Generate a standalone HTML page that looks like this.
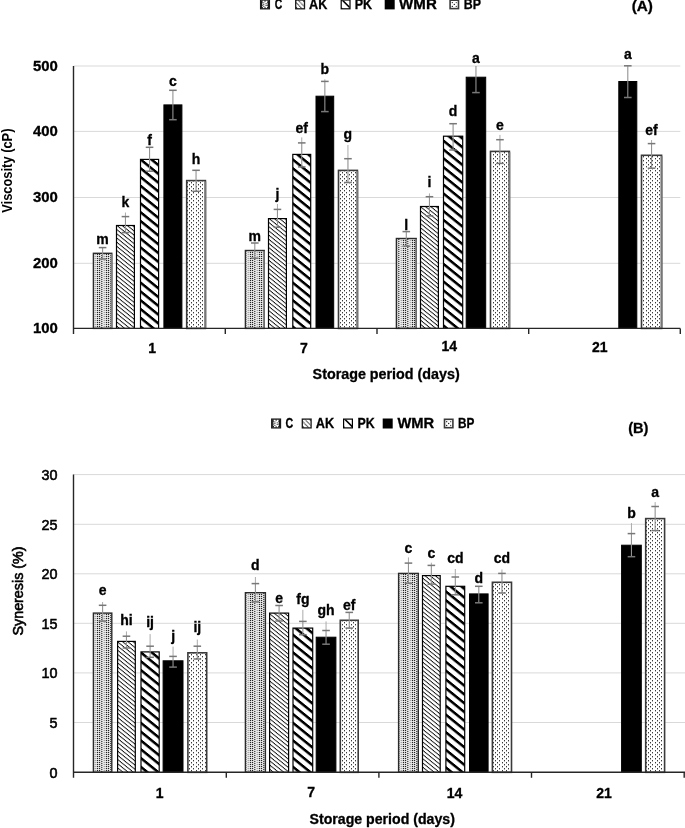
<!DOCTYPE html><html><head><meta charset="utf-8"><style>html,body{margin:0;padding:0;background:#fff;}svg{display:block;font-family:"Liberation Sans", sans-serif;will-change:transform;} text{stroke:#000;stroke-width:0.3px;}</style></head><body>
<svg width="685" height="828" viewBox="0 0 685 828">
<defs>
<pattern id="pC" patternUnits="userSpaceOnUse" width="7" height="2" x="0" y="0">
  <rect width="7" height="2" fill="#fafafa"/>
  <rect x="0" y="0" width="1" height="1" fill="#333"/><rect x="0" y="1" width="1" height="1" fill="#d8d8d8"/>
  <rect x="2" y="1" width="1" height="1" fill="#333"/><rect x="2" y="0" width="1" height="1" fill="#d8d8d8"/>
  <rect x="4" y="0" width="2" height="1" fill="#b0b0b0"/><rect x="4" y="1" width="2" height="1" fill="#ececec"/>
</pattern>
<pattern id="pCB" patternUnits="userSpaceOnUse" width="9" height="2" x="0" y="0">
  <rect width="9" height="2" fill="#f6f6f6"/>
  <rect x="0" y="0" width="1.2" height="1.1" fill="#222"/><rect x="0" y="1.1" width="1.2" height="0.9" fill="#cfcfcf"/>
  <rect x="2.2" y="1" width="1.2" height="1.1" fill="#222"/><rect x="2.2" y="0" width="1.2" height="1" fill="#cfcfcf"/>
  <rect x="4.5" y="0" width="2" height="1" fill="#a8a8a8"/><rect x="4.5" y="1" width="2" height="1" fill="#e4e4e4"/>
  <rect x="7" y="0" width="1.2" height="1.1" fill="#222"/><rect x="7" y="1.1" width="1.2" height="0.9" fill="#cfcfcf"/>
</pattern>
<pattern id="pAK" patternUnits="userSpaceOnUse" width="20" height="4.2" patternTransform="skewY(39)">
  <rect width="20" height="4.2" fill="#fff"/>
  <rect y="0" width="20" height="1.15" fill="#111"/>
</pattern>
<pattern id="pPK" patternUnits="userSpaceOnUse" width="20" height="8.8" patternTransform="skewY(39)">
  <rect width="20" height="8.8" fill="#fff"/>
  <rect y="0" width="20" height="3.3" fill="#000"/>
</pattern>
<pattern id="pBP" patternUnits="userSpaceOnUse" width="9" height="4" x="0" y="0">
  <rect width="9" height="4" fill="#fff"/>
  <rect x="0" y="0" width="1" height="1.4" fill="#3a3a3a"/>
  <rect x="4" y="0" width="1" height="1.4" fill="#3a3a3a"/>
  <rect x="2" y="2" width="1" height="1.4" fill="#3a3a3a"/>
  <rect x="7" y="2" width="1" height="1.4" fill="#3a3a3a"/>
</pattern>
<pattern id="lC" patternUnits="userSpaceOnUse" width="3" height="2.5">
  <rect width="3" height="2.5" fill="#4a4a4a"/>
  <rect x="0.5" y="0.6" width="2" height="1.1" fill="#f0f0f0"/>
</pattern>
<pattern id="lAK" patternUnits="userSpaceOnUse" width="20" height="3.6" patternTransform="skewY(45)">
  <rect width="20" height="3.6" fill="#1a1a1a"/>
  <rect y="0" width="20" height="1.7" fill="#f4f4f4"/>
</pattern>
<pattern id="lPK" patternUnits="userSpaceOnUse" width="20" height="6" patternTransform="skewY(45)">
  <rect width="20" height="6" fill="#fff"/>
  <rect y="0" width="20" height="2.5" fill="#000"/>
</pattern>
<pattern id="lBP" patternUnits="userSpaceOnUse" width="3" height="3">
  <rect width="3" height="3" fill="#fff"/>
  <rect x="1" y="1" width="1" height="1" fill="#222"/>
</pattern>
</defs>
<rect width="685" height="828" fill="#fff"/>
<line x1="73.5" y1="66.0" x2="680.3" y2="66.0" stroke="#d9d9d9" stroke-width="1"/>
<line x1="73.5" y1="131.4" x2="680.3" y2="131.4" stroke="#d9d9d9" stroke-width="1"/>
<line x1="73.5" y1="197.5" x2="680.3" y2="197.5" stroke="#d9d9d9" stroke-width="1"/>
<line x1="73.5" y1="263.3" x2="680.3" y2="263.3" stroke="#d9d9d9" stroke-width="1"/>
<rect x="93.40" y="253.30" width="18.40" height="75.10" fill="url(#pCB)" stroke="#2a2a2a" stroke-width="1.4"/>
<rect x="110.60" y="253.90" width="1.7" height="73.90" fill="#808080"/>
<rect x="116.50" y="225.50" width="17.90" height="102.90" fill="url(#pAK)" stroke="#000" stroke-width="1.2"/>
<rect x="140.50" y="159.40" width="18.10" height="169.00" fill="url(#pPK)" stroke="#000" stroke-width="1.2"/>
<rect x="163.90" y="104.90" width="18.00" height="223.50" fill="#000" stroke="#000" stroke-width="1.0"/>
<rect x="186.70" y="180.60" width="18.70" height="147.80" fill="url(#pBP)" stroke="#3a3a3a" stroke-width="1.6"/>
<rect x="204.40" y="181.40" width="1.9" height="147.00" fill="#767676"/>
<rect x="245.40" y="250.50" width="18.80" height="77.90" fill="url(#pCB)" stroke="#2a2a2a" stroke-width="1.4"/>
<rect x="263.00" y="251.10" width="1.7" height="76.70" fill="#808080"/>
<rect x="268.50" y="218.60" width="17.90" height="109.80" fill="url(#pAK)" stroke="#000" stroke-width="1.2"/>
<rect x="292.80" y="154.40" width="17.90" height="174.00" fill="url(#pPK)" stroke="#000" stroke-width="1.2"/>
<rect x="316.00" y="96.20" width="17.70" height="232.20" fill="#000" stroke="#000" stroke-width="1.0"/>
<rect x="338.50" y="170.40" width="18.90" height="158.00" fill="url(#pBP)" stroke="#3a3a3a" stroke-width="1.6"/>
<rect x="356.40" y="171.20" width="1.9" height="157.20" fill="#767676"/>
<rect x="396.40" y="238.50" width="19.80" height="89.90" fill="url(#pCB)" stroke="#2a2a2a" stroke-width="1.4"/>
<rect x="415.00" y="239.10" width="1.7" height="88.70" fill="#808080"/>
<rect x="420.50" y="206.50" width="17.90" height="121.90" fill="url(#pAK)" stroke="#000" stroke-width="1.2"/>
<rect x="443.50" y="136.20" width="19.20" height="192.20" fill="url(#pPK)" stroke="#000" stroke-width="1.2"/>
<rect x="466.20" y="77.20" width="19.50" height="251.20" fill="#000" stroke="#000" stroke-width="1.0"/>
<rect x="490.50" y="151.40" width="18.90" height="177.00" fill="url(#pBP)" stroke="#3a3a3a" stroke-width="1.6"/>
<rect x="508.40" y="152.20" width="1.9" height="176.20" fill="#767676"/>
<rect x="618.80" y="81.50" width="18.00" height="246.90" fill="#000" stroke="#000" stroke-width="1.0"/>
<rect x="641.50" y="155.30" width="20.10" height="173.10" fill="url(#pBP)" stroke="#3a3a3a" stroke-width="1.6"/>
<rect x="660.60" y="156.10" width="1.9" height="172.30" fill="#767676"/>
<line x1="102.60" y1="247.60" x2="102.60" y2="259.00" stroke="#929292" stroke-width="1.1"/>
<line x1="98.80" y1="247.60" x2="106.40" y2="247.60" stroke="#787878" stroke-width="1.5"/>
<line x1="98.80" y1="259.00" x2="106.40" y2="259.00" stroke="#787878" stroke-width="1.5"/>
<line x1="125.45" y1="216.60" x2="125.45" y2="232.60" stroke="#929292" stroke-width="1.1"/>
<line x1="125.45" y1="212.50" x2="125.45" y2="216.60" stroke="#aaaaaa" stroke-width="1.0"/>
<line x1="121.65" y1="216.60" x2="129.25" y2="216.60" stroke="#787878" stroke-width="1.5"/>
<line x1="121.65" y1="232.60" x2="129.25" y2="232.60" stroke="#787878" stroke-width="1.5"/>
<line x1="149.55" y1="147.30" x2="149.55" y2="171.20" stroke="#929292" stroke-width="1.1"/>
<line x1="145.75" y1="147.30" x2="153.35" y2="147.30" stroke="#787878" stroke-width="1.5"/>
<line x1="145.75" y1="171.20" x2="153.35" y2="171.20" stroke="#787878" stroke-width="1.5"/>
<line x1="172.90" y1="90.30" x2="172.90" y2="119.70" stroke="#929292" stroke-width="1.1"/>
<line x1="169.10" y1="90.30" x2="176.70" y2="90.30" stroke="#787878" stroke-width="1.5"/>
<line x1="169.10" y1="119.70" x2="176.70" y2="119.70" stroke="#787878" stroke-width="1.5"/>
<line x1="196.05" y1="170.30" x2="196.05" y2="191.30" stroke="#929292" stroke-width="1.1"/>
<line x1="192.25" y1="170.30" x2="199.85" y2="170.30" stroke="#787878" stroke-width="1.5"/>
<line x1="192.25" y1="191.30" x2="199.85" y2="191.30" stroke="#787878" stroke-width="1.5"/>
<line x1="254.80" y1="243.00" x2="254.80" y2="258.20" stroke="#929292" stroke-width="1.1"/>
<line x1="251.00" y1="243.00" x2="258.60" y2="243.00" stroke="#787878" stroke-width="1.5"/>
<line x1="251.00" y1="258.20" x2="258.60" y2="258.20" stroke="#787878" stroke-width="1.5"/>
<line x1="277.45" y1="209.40" x2="277.45" y2="227.30" stroke="#929292" stroke-width="1.1"/>
<line x1="277.45" y1="204.00" x2="277.45" y2="209.40" stroke="#aaaaaa" stroke-width="1.0"/>
<line x1="273.65" y1="209.40" x2="281.25" y2="209.40" stroke="#787878" stroke-width="1.5"/>
<line x1="273.65" y1="227.30" x2="281.25" y2="227.30" stroke="#787878" stroke-width="1.5"/>
<line x1="301.75" y1="142.90" x2="301.75" y2="166.90" stroke="#929292" stroke-width="1.1"/>
<line x1="301.75" y1="137.40" x2="301.75" y2="142.90" stroke="#aaaaaa" stroke-width="1.0"/>
<line x1="297.95" y1="142.90" x2="305.55" y2="142.90" stroke="#787878" stroke-width="1.5"/>
<line x1="297.95" y1="166.90" x2="305.55" y2="166.90" stroke="#787878" stroke-width="1.5"/>
<line x1="324.85" y1="81.40" x2="324.85" y2="111.60" stroke="#929292" stroke-width="1.1"/>
<line x1="324.85" y1="79.30" x2="324.85" y2="81.40" stroke="#aaaaaa" stroke-width="1.0"/>
<line x1="321.05" y1="81.40" x2="328.65" y2="81.40" stroke="#787878" stroke-width="1.5"/>
<line x1="321.05" y1="111.60" x2="328.65" y2="111.60" stroke="#787878" stroke-width="1.5"/>
<line x1="347.95" y1="158.70" x2="347.95" y2="182.50" stroke="#929292" stroke-width="1.1"/>
<line x1="347.95" y1="145.00" x2="347.95" y2="158.70" stroke="#aaaaaa" stroke-width="1.0"/>
<line x1="344.15" y1="158.70" x2="351.75" y2="158.70" stroke="#787878" stroke-width="1.5"/>
<line x1="344.15" y1="182.50" x2="351.75" y2="182.50" stroke="#787878" stroke-width="1.5"/>
<line x1="406.30" y1="231.60" x2="406.30" y2="246.20" stroke="#929292" stroke-width="1.1"/>
<line x1="402.50" y1="231.60" x2="410.10" y2="231.60" stroke="#787878" stroke-width="1.5"/>
<line x1="402.50" y1="246.20" x2="410.10" y2="246.20" stroke="#787878" stroke-width="1.5"/>
<line x1="429.45" y1="196.70" x2="429.45" y2="215.90" stroke="#929292" stroke-width="1.1"/>
<line x1="429.45" y1="193.40" x2="429.45" y2="196.70" stroke="#aaaaaa" stroke-width="1.0"/>
<line x1="425.65" y1="196.70" x2="433.25" y2="196.70" stroke="#787878" stroke-width="1.5"/>
<line x1="425.65" y1="215.90" x2="433.25" y2="215.90" stroke="#787878" stroke-width="1.5"/>
<line x1="453.10" y1="123.70" x2="453.10" y2="150.00" stroke="#929292" stroke-width="1.1"/>
<line x1="449.30" y1="123.70" x2="456.90" y2="123.70" stroke="#787878" stroke-width="1.5"/>
<line x1="449.30" y1="150.00" x2="456.90" y2="150.00" stroke="#787878" stroke-width="1.5"/>
<line x1="475.95" y1="66.00" x2="475.95" y2="92.60" stroke="#929292" stroke-width="1.1"/>
<line x1="472.15" y1="92.60" x2="479.75" y2="92.60" stroke="#787878" stroke-width="1.5"/>
<line x1="499.95" y1="139.70" x2="499.95" y2="163.40" stroke="#929292" stroke-width="1.1"/>
<line x1="499.95" y1="134.90" x2="499.95" y2="139.70" stroke="#aaaaaa" stroke-width="1.0"/>
<line x1="496.15" y1="139.70" x2="503.75" y2="139.70" stroke="#787878" stroke-width="1.5"/>
<line x1="496.15" y1="163.40" x2="503.75" y2="163.40" stroke="#787878" stroke-width="1.5"/>
<line x1="627.80" y1="65.80" x2="627.80" y2="97.50" stroke="#929292" stroke-width="1.1"/>
<line x1="624.00" y1="65.80" x2="631.60" y2="65.80" stroke="#787878" stroke-width="1.5"/>
<line x1="624.00" y1="97.50" x2="631.60" y2="97.50" stroke="#787878" stroke-width="1.5"/>
<line x1="651.55" y1="143.60" x2="651.55" y2="168.20" stroke="#929292" stroke-width="1.1"/>
<line x1="651.55" y1="140.00" x2="651.55" y2="143.60" stroke="#aaaaaa" stroke-width="1.0"/>
<line x1="647.75" y1="143.60" x2="655.35" y2="143.60" stroke="#787878" stroke-width="1.5"/>
<line x1="647.75" y1="168.20" x2="655.35" y2="168.20" stroke="#787878" stroke-width="1.5"/>
<text x="102.6" y="244.3" font-size="14" font-weight="bold" text-anchor="middle" >m</text>
<text x="125.5" y="207.0" font-size="14" font-weight="bold" text-anchor="middle" >k</text>
<text x="149.6" y="145.1" font-size="14" font-weight="bold" text-anchor="middle" >f</text>
<text x="172.9" y="85.7" font-size="14" font-weight="bold" text-anchor="middle" >c</text>
<text x="196.1" y="164.2" font-size="14" font-weight="bold" text-anchor="middle" >h</text>
<text x="254.8" y="241.0" font-size="14" font-weight="bold" text-anchor="middle" >m</text>
<text x="277.4" y="199.4" font-size="14" font-weight="bold" text-anchor="middle" >j</text>
<text x="301.8" y="132.5" font-size="14" font-weight="bold" text-anchor="middle" >ef</text>
<text x="324.9" y="74.1" font-size="14" font-weight="bold" text-anchor="middle" >b</text>
<text x="347.9" y="138.7" font-size="14" font-weight="bold" text-anchor="middle" >g</text>
<text x="406.3" y="229.6" font-size="14" font-weight="bold" text-anchor="middle" >l</text>
<text x="429.4" y="187.2" font-size="14" font-weight="bold" text-anchor="middle" >i</text>
<text x="453.1" y="116.4" font-size="14" font-weight="bold" text-anchor="middle" >d</text>
<text x="475.9" y="62.9" font-size="14" font-weight="bold" text-anchor="middle" >a</text>
<text x="499.9" y="129.7" font-size="14" font-weight="bold" text-anchor="middle" >e</text>
<text x="627.8" y="58.5" font-size="14" font-weight="bold" text-anchor="middle" >a</text>
<text x="651.5" y="134.6" font-size="14" font-weight="bold" text-anchor="middle" >ef</text>
<line x1="73.5" y1="66.0" x2="73.5" y2="333.9" stroke="#262626" stroke-width="1.4"/>
<line x1="73.5" y1="328.4" x2="680.3" y2="328.4" stroke="#262626" stroke-width="1.4"/>
<line x1="225.3" y1="328.4" x2="225.3" y2="333.9" stroke="#262626" stroke-width="1.4"/>
<line x1="377.0" y1="328.4" x2="377.0" y2="333.9" stroke="#262626" stroke-width="1.4"/>
<line x1="528.7" y1="328.4" x2="528.7" y2="333.9" stroke="#262626" stroke-width="1.4"/>
<line x1="680.3" y1="328.4" x2="680.3" y2="333.9" stroke="#262626" stroke-width="1.4"/>
<text x="57.8" y="70.9" font-size="14.3" font-weight="bold" text-anchor="end" textLength="24.9" lengthAdjust="spacingAndGlyphs" style="stroke-width:0.3px">500</text>
<text x="57.8" y="136.3" font-size="14.3" font-weight="bold" text-anchor="end" textLength="24.9" lengthAdjust="spacingAndGlyphs" style="stroke-width:0.3px">400</text>
<text x="57.8" y="202.4" font-size="14.3" font-weight="bold" text-anchor="end" textLength="24.9" lengthAdjust="spacingAndGlyphs" style="stroke-width:0.3px">300</text>
<text x="57.8" y="268.2" font-size="14.3" font-weight="bold" text-anchor="end" textLength="24.9" lengthAdjust="spacingAndGlyphs" style="stroke-width:0.3px">200</text>
<text x="57.8" y="333.3" font-size="14.3" font-weight="bold" text-anchor="end" textLength="24.9" lengthAdjust="spacingAndGlyphs" style="stroke-width:0.3px">100</text>
<text x="152.1" y="353.4" font-size="14" font-weight="bold" text-anchor="middle" >1</text>
<text x="303.9" y="353.1" font-size="14" font-weight="bold" text-anchor="middle" >7</text>
<text x="449.2" y="351.4" font-size="14" font-weight="bold" text-anchor="middle" >14</text>
<text x="599.7" y="352.4" font-size="14" font-weight="bold" text-anchor="middle" >21</text>
<g transform="translate(260.0,-0.6)"><rect x="0.6" y="0.6" width="8.8" height="8.8" fill="#fff" stroke="#1a1a1a" stroke-width="1.3"/><path d="M1,1 L3,1 L2.4,2.2 L2.9,3 L1.9,3.8 L2.9,4.6 L1.9,5.4 L2.9,6.2 L1.9,7 L2.9,7.8 L3,9 L1,9 Z" fill="#1a1a1a"/><path d="M9,1 L7.2,1 L7.6,2.2 L7.0,3 L8.0,3.8 L7.0,4.6 L8.0,5.4 L7.0,6.2 L8.0,7 L7.0,7.8 L7.2,9 L9,9 Z" fill="#1a1a1a"/><path d="M4.1,1 L6.0,1 L5,2.8 Z M4.1,9 L6.0,9 L5,7.2 Z" fill="#1a1a1a"/><circle cx="3.8" cy="3.4" r="0.6" fill="#222"/><circle cx="3.8" cy="5.1" r="0.6" fill="#222"/><circle cx="3.8" cy="6.8" r="0.6" fill="#222"/><circle cx="6.1" cy="4.3" r="0.6" fill="#222"/><circle cx="6.1" cy="6.0" r="0.6" fill="#222"/></g>
<text x="274.8" y="9.1" font-size="14" font-weight="bold" text-anchor="start" textLength="7.5" lengthAdjust="spacingAndGlyphs">C</text>
<g transform="translate(295.1,-0.6)"><rect x="0.6" y="0.6" width="8.8" height="8.8" fill="#fff" stroke="#1a1a1a" stroke-width="1.3"/><path d="M1,3.2 L6.8,9" stroke="#222" stroke-width="1.1" stroke-dasharray="1 0.5"/><path d="M3.2,1 L9,6.8" stroke="#333" stroke-width="1.1" stroke-dasharray="1 0.5"/><path d="M1,7.2 L2.8,9 L1,9 Z M7.2,1 L9,1 L9,2.8 Z M1,1 L2,1 L1,2 Z" fill="#111"/></g>
<text x="309.1" y="9.1" font-size="14" font-weight="bold" text-anchor="start" textLength="18.3" lengthAdjust="spacingAndGlyphs">AK</text>
<g transform="translate(340.6,-0.6)"><rect x="0.6" y="0.6" width="8.8" height="8.8" fill="#fff" stroke="#000" stroke-width="1.2"/><path d="M1,1 L3.2,1 L9,6.8 L9,9 Z" fill="#000"/><path d="M1,7.8 L2.2,9 L1,9 Z" fill="#000"/></g>
<text x="354.7" y="9.1" font-size="14" font-weight="bold" text-anchor="start" textLength="17.5" lengthAdjust="spacingAndGlyphs">PK</text>
<g transform="translate(384.7,-0.6)"><rect x="0" y="0" width="10" height="10" fill="#000"/></g>
<text x="399.1" y="9.1" font-size="14" font-weight="bold" text-anchor="start" textLength="37.7" lengthAdjust="spacingAndGlyphs">WMR</text>
<g transform="translate(449.3,-0.6)"><rect x="0.8" y="0.8" width="8.4" height="8.4" fill="#fff" stroke="#3a3a3a" stroke-width="1.6"/><circle cx="3" cy="3.2" r="0.65" fill="#111"/><circle cx="7" cy="3.2" r="0.65" fill="#444"/><circle cx="5" cy="5" r="0.65" fill="#111"/><circle cx="3" cy="7" r="0.65" fill="#111"/><circle cx="7" cy="7" r="0.65" fill="#444"/></g>
<text x="463.8" y="9.1" font-size="14" font-weight="bold" text-anchor="start" textLength="17.2" lengthAdjust="spacingAndGlyphs">BP</text>
<text x="631.7" y="11.4" font-size="14" font-weight="bold" text-anchor="start" textLength="21.2" lengthAdjust="spacingAndGlyphs">(A)</text>
<text x="312.6" y="379.3" font-size="14" font-weight="bold" text-anchor="start" textLength="147.1" lengthAdjust="spacingAndGlyphs">Storage period (days)</text>
<text transform="translate(11.6,212.8) rotate(-90)" font-size="14" font-weight="bold" style="stroke-width:0" textLength="84.3" lengthAdjust="spacingAndGlyphs">Viscosity (cP)</text>
<line x1="73.5" y1="474.6" x2="685.5" y2="474.6" stroke="#d9d9d9" stroke-width="1"/>
<line x1="73.5" y1="524.3" x2="685.5" y2="524.3" stroke="#d9d9d9" stroke-width="1"/>
<line x1="73.5" y1="573.8" x2="685.5" y2="573.8" stroke="#d9d9d9" stroke-width="1"/>
<line x1="73.5" y1="623.3" x2="685.5" y2="623.3" stroke="#d9d9d9" stroke-width="1"/>
<line x1="73.5" y1="672.9" x2="685.5" y2="672.9" stroke="#d9d9d9" stroke-width="1"/>
<line x1="73.5" y1="722.5" x2="685.5" y2="722.5" stroke="#d9d9d9" stroke-width="1"/>
<rect x="93.40" y="613.10" width="18.40" height="159.20" fill="url(#pCB)" stroke="#2a2a2a" stroke-width="1.4"/>
<rect x="117.60" y="641.40" width="17.70" height="130.90" fill="url(#pAK)" stroke="#000" stroke-width="1.2"/>
<rect x="141.00" y="651.90" width="18.20" height="120.40" fill="url(#pPK)" stroke="#000" stroke-width="1.2"/>
<rect x="163.10" y="660.80" width="19.90" height="111.50" fill="#000" stroke="#000" stroke-width="1.0"/>
<rect x="187.90" y="652.80" width="18.80" height="119.50" fill="url(#pBP)" stroke="#3a3a3a" stroke-width="1.6"/>
<rect x="245.40" y="592.70" width="20.00" height="179.60" fill="url(#pCB)" stroke="#2a2a2a" stroke-width="1.4"/>
<rect x="269.60" y="613.10" width="19.00" height="159.20" fill="url(#pAK)" stroke="#000" stroke-width="1.2"/>
<rect x="293.00" y="628.10" width="19.70" height="144.20" fill="url(#pPK)" stroke="#000" stroke-width="1.2"/>
<rect x="316.20" y="637.20" width="19.70" height="135.10" fill="#000" stroke="#000" stroke-width="1.0"/>
<rect x="340.30" y="620.30" width="17.90" height="152.00" fill="url(#pBP)" stroke="#3a3a3a" stroke-width="1.6"/>
<rect x="398.60" y="573.40" width="19.70" height="198.90" fill="url(#pCB)" stroke="#2a2a2a" stroke-width="1.4"/>
<rect x="422.50" y="575.60" width="17.70" height="196.70" fill="url(#pAK)" stroke="#000" stroke-width="1.2"/>
<rect x="445.90" y="586.30" width="18.80" height="186.00" fill="url(#pPK)" stroke="#000" stroke-width="1.2"/>
<rect x="469.50" y="593.90" width="18.60" height="178.40" fill="#000" stroke="#000" stroke-width="1.0"/>
<rect x="492.40" y="582.30" width="19.10" height="190.00" fill="url(#pBP)" stroke="#3a3a3a" stroke-width="1.6"/>
<rect x="621.60" y="545.20" width="19.70" height="227.10" fill="#000" stroke="#000" stroke-width="1.0"/>
<rect x="645.70" y="518.60" width="18.90" height="253.70" fill="url(#pBP)" stroke="#3a3a3a" stroke-width="1.6"/>
<line x1="102.60" y1="605.30" x2="102.60" y2="621.10" stroke="#929292" stroke-width="1.1"/>
<line x1="102.60" y1="602.00" x2="102.60" y2="605.30" stroke="#aaaaaa" stroke-width="1.0"/>
<line x1="98.80" y1="605.30" x2="106.40" y2="605.30" stroke="#787878" stroke-width="1.5"/>
<line x1="98.80" y1="621.10" x2="106.40" y2="621.10" stroke="#787878" stroke-width="1.5"/>
<line x1="126.45" y1="636.20" x2="126.45" y2="648.00" stroke="#929292" stroke-width="1.1"/>
<line x1="126.45" y1="631.40" x2="126.45" y2="636.20" stroke="#aaaaaa" stroke-width="1.0"/>
<line x1="122.65" y1="636.20" x2="130.25" y2="636.20" stroke="#787878" stroke-width="1.5"/>
<line x1="122.65" y1="648.00" x2="130.25" y2="648.00" stroke="#787878" stroke-width="1.5"/>
<line x1="150.10" y1="646.20" x2="150.10" y2="657.30" stroke="#929292" stroke-width="1.1"/>
<line x1="150.10" y1="634.10" x2="150.10" y2="646.20" stroke="#aaaaaa" stroke-width="1.0"/>
<line x1="146.30" y1="646.20" x2="153.90" y2="646.20" stroke="#787878" stroke-width="1.5"/>
<line x1="146.30" y1="657.30" x2="153.90" y2="657.30" stroke="#787878" stroke-width="1.5"/>
<line x1="173.05" y1="656.40" x2="173.05" y2="667.10" stroke="#929292" stroke-width="1.1"/>
<line x1="173.05" y1="646.60" x2="173.05" y2="656.40" stroke="#aaaaaa" stroke-width="1.0"/>
<line x1="169.25" y1="656.40" x2="176.85" y2="656.40" stroke="#787878" stroke-width="1.5"/>
<line x1="169.25" y1="667.10" x2="176.85" y2="667.10" stroke="#787878" stroke-width="1.5"/>
<line x1="197.30" y1="646.20" x2="197.30" y2="659.00" stroke="#929292" stroke-width="1.1"/>
<line x1="197.30" y1="639.50" x2="197.30" y2="646.20" stroke="#aaaaaa" stroke-width="1.0"/>
<line x1="193.50" y1="646.20" x2="201.10" y2="646.20" stroke="#787878" stroke-width="1.5"/>
<line x1="193.50" y1="659.00" x2="201.10" y2="659.00" stroke="#787878" stroke-width="1.5"/>
<line x1="255.40" y1="583.60" x2="255.40" y2="601.90" stroke="#929292" stroke-width="1.1"/>
<line x1="255.40" y1="577.00" x2="255.40" y2="583.60" stroke="#aaaaaa" stroke-width="1.0"/>
<line x1="251.60" y1="583.60" x2="259.20" y2="583.60" stroke="#787878" stroke-width="1.5"/>
<line x1="251.60" y1="601.90" x2="259.20" y2="601.90" stroke="#787878" stroke-width="1.5"/>
<line x1="279.10" y1="605.50" x2="279.10" y2="621.00" stroke="#929292" stroke-width="1.1"/>
<line x1="275.30" y1="605.50" x2="282.90" y2="605.50" stroke="#787878" stroke-width="1.5"/>
<line x1="275.30" y1="621.00" x2="282.90" y2="621.00" stroke="#787878" stroke-width="1.5"/>
<line x1="302.85" y1="621.40" x2="302.85" y2="634.70" stroke="#929292" stroke-width="1.1"/>
<line x1="302.85" y1="609.80" x2="302.85" y2="621.40" stroke="#aaaaaa" stroke-width="1.0"/>
<line x1="299.05" y1="621.40" x2="306.65" y2="621.40" stroke="#787878" stroke-width="1.5"/>
<line x1="299.05" y1="634.70" x2="306.65" y2="634.70" stroke="#787878" stroke-width="1.5"/>
<line x1="326.05" y1="630.50" x2="326.05" y2="644.20" stroke="#929292" stroke-width="1.1"/>
<line x1="326.05" y1="621.40" x2="326.05" y2="630.50" stroke="#aaaaaa" stroke-width="1.0"/>
<line x1="322.25" y1="630.50" x2="329.85" y2="630.50" stroke="#787878" stroke-width="1.5"/>
<line x1="322.25" y1="644.20" x2="329.85" y2="644.20" stroke="#787878" stroke-width="1.5"/>
<line x1="349.25" y1="612.40" x2="349.25" y2="628.10" stroke="#929292" stroke-width="1.1"/>
<line x1="345.45" y1="612.40" x2="353.05" y2="612.40" stroke="#787878" stroke-width="1.5"/>
<line x1="345.45" y1="628.10" x2="353.05" y2="628.10" stroke="#787878" stroke-width="1.5"/>
<line x1="408.45" y1="563.10" x2="408.45" y2="583.20" stroke="#929292" stroke-width="1.1"/>
<line x1="408.45" y1="557.40" x2="408.45" y2="563.10" stroke="#aaaaaa" stroke-width="1.0"/>
<line x1="404.65" y1="563.10" x2="412.25" y2="563.10" stroke="#787878" stroke-width="1.5"/>
<line x1="404.65" y1="583.20" x2="412.25" y2="583.20" stroke="#787878" stroke-width="1.5"/>
<line x1="431.35" y1="565.40" x2="431.35" y2="584.10" stroke="#929292" stroke-width="1.1"/>
<line x1="431.35" y1="562.70" x2="431.35" y2="565.40" stroke="#aaaaaa" stroke-width="1.0"/>
<line x1="427.55" y1="565.40" x2="435.15" y2="565.40" stroke="#787878" stroke-width="1.5"/>
<line x1="427.55" y1="584.10" x2="435.15" y2="584.10" stroke="#787878" stroke-width="1.5"/>
<line x1="455.30" y1="577.00" x2="455.30" y2="594.80" stroke="#929292" stroke-width="1.1"/>
<line x1="455.30" y1="569.00" x2="455.30" y2="577.00" stroke="#aaaaaa" stroke-width="1.0"/>
<line x1="451.50" y1="577.00" x2="459.10" y2="577.00" stroke="#787878" stroke-width="1.5"/>
<line x1="451.50" y1="594.80" x2="459.10" y2="594.80" stroke="#787878" stroke-width="1.5"/>
<line x1="478.80" y1="586.30" x2="478.80" y2="602.80" stroke="#929292" stroke-width="1.1"/>
<line x1="475.00" y1="586.30" x2="482.60" y2="586.30" stroke="#787878" stroke-width="1.5"/>
<line x1="475.00" y1="602.80" x2="482.60" y2="602.80" stroke="#787878" stroke-width="1.5"/>
<line x1="501.95" y1="573.40" x2="501.95" y2="593.00" stroke="#929292" stroke-width="1.1"/>
<line x1="501.95" y1="569.50" x2="501.95" y2="573.40" stroke="#aaaaaa" stroke-width="1.0"/>
<line x1="498.15" y1="573.40" x2="505.75" y2="573.40" stroke="#787878" stroke-width="1.5"/>
<line x1="498.15" y1="593.00" x2="505.75" y2="593.00" stroke="#787878" stroke-width="1.5"/>
<line x1="631.45" y1="533.60" x2="631.45" y2="556.70" stroke="#929292" stroke-width="1.1"/>
<line x1="631.45" y1="523.10" x2="631.45" y2="533.60" stroke="#aaaaaa" stroke-width="1.0"/>
<line x1="627.65" y1="533.60" x2="635.25" y2="533.60" stroke="#787878" stroke-width="1.5"/>
<line x1="627.65" y1="556.70" x2="635.25" y2="556.70" stroke="#787878" stroke-width="1.5"/>
<line x1="655.15" y1="506.50" x2="655.15" y2="530.60" stroke="#929292" stroke-width="1.1"/>
<line x1="655.15" y1="502.10" x2="655.15" y2="506.50" stroke="#aaaaaa" stroke-width="1.0"/>
<line x1="651.35" y1="506.50" x2="658.95" y2="506.50" stroke="#787878" stroke-width="1.5"/>
<line x1="651.35" y1="530.60" x2="658.95" y2="530.60" stroke="#787878" stroke-width="1.5"/>
<text x="102.6" y="595.3" font-size="14" font-weight="bold" text-anchor="middle" >e</text>
<text x="126.5" y="625.0" font-size="14" font-weight="bold" text-anchor="middle" >hi</text>
<text x="150.1" y="627.2" font-size="14" font-weight="bold" text-anchor="middle" >ij</text>
<text x="173.1" y="640.7" font-size="14" font-weight="bold" text-anchor="middle" >j</text>
<text x="197.3" y="631.7" font-size="14" font-weight="bold" text-anchor="middle" >ij</text>
<text x="255.4" y="570.0" font-size="14" font-weight="bold" text-anchor="middle" >d</text>
<text x="279.1" y="602.6" font-size="14" font-weight="bold" text-anchor="middle" >e</text>
<text x="302.9" y="603.7" font-size="14" font-weight="bold" text-anchor="middle" >fg</text>
<text x="326.0" y="614.7" font-size="14" font-weight="bold" text-anchor="middle" >gh</text>
<text x="349.2" y="609.7" font-size="14" font-weight="bold" text-anchor="middle" >ef</text>
<text x="408.5" y="552.8" font-size="14" font-weight="bold" text-anchor="middle" >c</text>
<text x="431.4" y="558.1" font-size="14" font-weight="bold" text-anchor="middle" >c</text>
<text x="455.3" y="563.4" font-size="14" font-weight="bold" text-anchor="middle" >cd</text>
<text x="478.8" y="583.4" font-size="14" font-weight="bold" text-anchor="middle" >d</text>
<text x="501.9" y="563.4" font-size="14" font-weight="bold" text-anchor="middle" >cd</text>
<text x="631.5" y="517.9" font-size="14" font-weight="bold" text-anchor="middle" >b</text>
<text x="655.2" y="496.5" font-size="14" font-weight="bold" text-anchor="middle" >a</text>
<line x1="73.5" y1="474.6" x2="73.5" y2="777.8" stroke="#262626" stroke-width="1.4"/>
<line x1="73.5" y1="772.3" x2="685.5" y2="772.3" stroke="#262626" stroke-width="1.4"/>
<line x1="226.3" y1="772.3" x2="226.3" y2="777.8" stroke="#262626" stroke-width="1.4"/>
<line x1="378.9" y1="772.3" x2="378.9" y2="777.8" stroke="#262626" stroke-width="1.4"/>
<line x1="531.5" y1="772.3" x2="531.5" y2="777.8" stroke="#262626" stroke-width="1.4"/>
<line x1="684.2" y1="772.3" x2="684.2" y2="777.8" stroke="#262626" stroke-width="1.4"/>
<text x="57.4" y="479.8" font-size="14.3" font-weight="normal" text-anchor="end" textLength="16.0" lengthAdjust="spacingAndGlyphs" style="stroke-width:0.55px">30</text>
<text x="57.4" y="529.5" font-size="14.3" font-weight="normal" text-anchor="end" textLength="16.0" lengthAdjust="spacingAndGlyphs" style="stroke-width:0.55px">25</text>
<text x="57.4" y="579.0" font-size="14.3" font-weight="normal" text-anchor="end" textLength="16.0" lengthAdjust="spacingAndGlyphs" style="stroke-width:0.55px">20</text>
<text x="57.4" y="628.5" font-size="14.3" font-weight="normal" text-anchor="end" textLength="16.0" lengthAdjust="spacingAndGlyphs" style="stroke-width:0.55px">15</text>
<text x="57.4" y="678.1" font-size="14.3" font-weight="normal" text-anchor="end" textLength="16.0" lengthAdjust="spacingAndGlyphs" style="stroke-width:0.55px">10</text>
<text x="57.4" y="727.7" font-size="14.3" font-weight="normal" text-anchor="end" textLength="8.0" lengthAdjust="spacingAndGlyphs" style="stroke-width:0.55px">5</text>
<text x="57.4" y="777.5" font-size="14.3" font-weight="normal" text-anchor="end" textLength="8.0" lengthAdjust="spacingAndGlyphs" style="stroke-width:0.55px">0</text>
<text x="159.6" y="797.8" font-size="14" font-weight="bold" text-anchor="middle" >1</text>
<text x="311.1" y="796.8" font-size="14" font-weight="bold" text-anchor="middle" >7</text>
<text x="454.6" y="798.3" font-size="14" font-weight="bold" text-anchor="middle" >14</text>
<text x="604.1" y="798.2" font-size="14" font-weight="bold" text-anchor="middle" >21</text>
<g transform="translate(271.1,418.5)"><rect x="0.6" y="0.6" width="8.8" height="8.8" fill="#fff" stroke="#1a1a1a" stroke-width="1.3"/><path d="M1,1 L3,1 L2.4,2.2 L2.9,3 L1.9,3.8 L2.9,4.6 L1.9,5.4 L2.9,6.2 L1.9,7 L2.9,7.8 L3,9 L1,9 Z" fill="#1a1a1a"/><path d="M9,1 L7.2,1 L7.6,2.2 L7.0,3 L8.0,3.8 L7.0,4.6 L8.0,5.4 L7.0,6.2 L8.0,7 L7.0,7.8 L7.2,9 L9,9 Z" fill="#1a1a1a"/><path d="M4.1,1 L6.0,1 L5,2.8 Z M4.1,9 L6.0,9 L5,7.2 Z" fill="#1a1a1a"/><circle cx="3.8" cy="3.4" r="0.6" fill="#222"/><circle cx="3.8" cy="5.1" r="0.6" fill="#222"/><circle cx="3.8" cy="6.8" r="0.6" fill="#222"/><circle cx="6.1" cy="4.3" r="0.6" fill="#222"/><circle cx="6.1" cy="6.0" r="0.6" fill="#222"/></g>
<text x="285.6" y="428.2" font-size="14" font-weight="bold" text-anchor="start" textLength="7.7" lengthAdjust="spacingAndGlyphs">C</text>
<g transform="translate(301.7,418.5)"><rect x="0.6" y="0.6" width="8.8" height="8.8" fill="#fff" stroke="#1a1a1a" stroke-width="1.3"/><path d="M1,3.2 L6.8,9" stroke="#222" stroke-width="1.1" stroke-dasharray="1 0.5"/><path d="M3.2,1 L9,6.8" stroke="#333" stroke-width="1.1" stroke-dasharray="1 0.5"/><path d="M1,7.2 L2.8,9 L1,9 Z M7.2,1 L9,1 L9,2.8 Z M1,1 L2,1 L1,2 Z" fill="#111"/></g>
<text x="315.7" y="428.2" font-size="14" font-weight="bold" text-anchor="start" textLength="18.4" lengthAdjust="spacingAndGlyphs">AK</text>
<g transform="translate(343.0,418.5)"><rect x="0.6" y="0.6" width="8.8" height="8.8" fill="#fff" stroke="#000" stroke-width="1.2"/><path d="M1,1 L3.2,1 L9,6.8 L9,9 Z" fill="#000"/><path d="M1,7.8 L2.2,9 L1,9 Z" fill="#000"/></g>
<text x="357.4" y="428.2" font-size="14" font-weight="bold" text-anchor="start" textLength="17.2" lengthAdjust="spacingAndGlyphs">PK</text>
<g transform="translate(382.7,418.5)"><rect x="0" y="0" width="10" height="10" fill="#000"/></g>
<text x="397.4" y="428.2" font-size="14" font-weight="bold" text-anchor="start" textLength="36.8" lengthAdjust="spacingAndGlyphs">WMR</text>
<g transform="translate(443.7,418.5)"><rect x="0.8" y="0.8" width="8.4" height="8.4" fill="#fff" stroke="#3a3a3a" stroke-width="1.6"/><circle cx="3" cy="3.2" r="0.65" fill="#111"/><circle cx="7" cy="3.2" r="0.65" fill="#444"/><circle cx="5" cy="5" r="0.65" fill="#111"/><circle cx="3" cy="7" r="0.65" fill="#111"/><circle cx="7" cy="7" r="0.65" fill="#444"/></g>
<text x="457.9" y="428.2" font-size="14" font-weight="bold" text-anchor="start" textLength="16.4" lengthAdjust="spacingAndGlyphs">BP</text>
<text x="628.2" y="432.6" font-size="14" font-weight="bold" text-anchor="start" textLength="20.3" lengthAdjust="spacingAndGlyphs">(B)</text>
<text x="309.5" y="824.0" font-size="14" font-weight="bold" text-anchor="start" textLength="145.4" lengthAdjust="spacingAndGlyphs">Storage period (days)</text>
<text transform="translate(23.0,635.5) rotate(-90)" font-size="14" font-weight="normal" style="stroke-width:0.6px" textLength="89.0" lengthAdjust="spacingAndGlyphs">Syneresis (%)</text>
</svg></body></html>
